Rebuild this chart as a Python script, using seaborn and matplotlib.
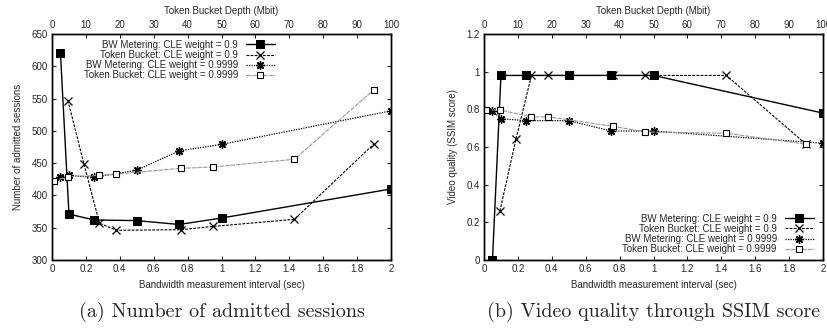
import matplotlib
matplotlib.use("Agg")
import matplotlib.pyplot as plt
import seaborn as sns

# ---- data ----
# bandwidth metering uses the bottom axis (sec), token bucket the top one (Mbit)
bw_x = [0.05, 0.1, 0.25, 0.5, 0.75, 1.0, 2.0]
tb09_x = [4.7, 9.4, 14, 19, 38, 47.5, 71.5, 95]
tb9999_x = [0.6, 4.6, 14, 19, 38, 47.5, 71.5, 95]

# (a) number of admitted sessions
sess_bw09 = [620, 371, 362, 361, 355, 365, 410]
sess_tb09 = [547, 449, 357, 346, 347, 352, 363, 480]
sess_bw9999 = [428, 431, 428, 439, 469, 479, 531]
sess_tb9999 = [422, 429, 431, 433, 442, 444, 456, 564]

# (b) video quality (SSIM)
ssim_bw09 = [0.0, 0.98, 0.98, 0.98, 0.98, 0.98, 0.78]
ssim_tb09 = [0.26, 0.64, 0.98, 0.98, 0.98, 0.98, 0.98, 0.615]
ssim_bw9999 = [0.79, 0.75, 0.74, 0.74, 0.685, 0.685, 0.62]
ssim_tb9999 = [0.797, 0.797, 0.76, 0.76, 0.71, 0.68, 0.673, 0.615]

labels = ["BW Metering: CLE weight = 0.9", "Token Bucket: CLE weight = 0.9",
          "BW Metering: CLE weight = 0.9999", "Token Bucket: CLE weight = 0.9999"]

sns.set_style("ticks")
plt.rcParams['font.family'] = ['Liberation Sans', 'DejaVu Sans']
FS = 7

fig = plt.figure(figsize=(8.27, 3.29), dpi=100)
W, H = 827, 329


def make_panel(left, ys, ylim, yticks, ylabel, caption, legend_loc, legend_anchor):
    ax = fig.add_axes([left / W, 1 - 260 / H, 339 / W, 226 / H])
    top = ax.twiny()

    bw09, tb09, bw9999, tb9999 = ys
    sns.lineplot(x=bw_x, y=bw09, ax=ax, color="black", lw=1.0, marker="s",
                 markersize=5.5, markeredgecolor="black", markerfacecolor="black")
    sns.lineplot(x=bw_x, y=bw9999, ax=ax, color="black", lw=0.9, linestyle=(0, (1, 1)),
                 marker=(8, 2, 0), markersize=6, markeredgecolor="black", markeredgewidth=1.0)
    sns.lineplot(x=tb09_x, y=tb09, ax=top, color="black", lw=0.8, linestyle=(0, (2.5, 1.2)),
                 marker="x", markersize=5.5, markeredgecolor="black", markeredgewidth=0.9)
    sns.lineplot(x=tb9999_x, y=tb9999, ax=top, color="0.6", lw=0.8, linestyle=(0, (4, 1)),
                 marker="s", markersize=5, markerfacecolor="white", markeredgecolor="black",
                 markeredgewidth=0.8)

    lines = ax.get_lines() + top.get_lines()
    # order: BW 0.9, TB 0.9, BW 0.9999, TB 0.9999
    handles = [lines[0], lines[2], lines[1], lines[3]]

    ax.set_xlim(0, 2)
    ax.set_ylim(*ylim)
    ax.set_xticks([i * 0.2 for i in range(11)])
    ax.set_xticklabels(["0", "0.2", "0.4", "0.6", "0.8", "1", "1.2", "1.4", "1.6", "1.8", "2"])
    ax.set_yticks(yticks)
    ax.set_yticklabels([("%g" % v) for v in yticks])
    top.set_xlim(0, 100)
    top.set_ylim(*ylim)
    top.set_xticks(range(0, 101, 10))

    ax.set_xlabel("Bandwidth measurement interval (sec)", fontsize=FS, labelpad=4)
    ax.set_ylabel(ylabel, fontsize=FS, labelpad=6)
    top.set_xlabel("Token Bucket Depth (Mbit)", fontsize=FS, labelpad=4)

    for a in (ax, top):
        a.tick_params(direction="in", length=3, width=0.8, labelsize=FS, pad=3)
        for s in a.spines.values():
            s.set_visible(True)
            s.set_linewidth(1.0)
            s.set_color("black")
    ax.tick_params(right=True, which="both")

    leg = top.legend(handles, labels, loc=legend_loc, bbox_to_anchor=legend_anchor,
                     frameon=False, fontsize=FS, markerfirst=False, handlelength=3.0,
                     handletextpad=0.8, labelspacing=0.02, borderaxespad=0.2)
    for t in leg.get_texts():
        t.set_ha("right")
    leg._legend_box.align = "right"

    fig.text((left + 339 / 2) / W, 1 - 312 / H, caption, ha="center", va="center",
             fontsize=14.5, fontfamily="cmr10")
    return ax


make_panel(52, (sess_bw09, sess_tb09, sess_bw9999, sess_tb9999), (300, 650),
           list(range(300, 651, 50)), "Number of admitted sessions",
           "(a) Number of admitted sessions", "upper right", (0.675, 1.0))
make_panel(484, (ssim_bw09, ssim_tb09, ssim_bw9999, ssim_tb9999), (0, 1.2),
           [0, 0.2, 0.4, 0.6, 0.8, 1.0, 1.2], "Video quality (SSIM score)",
           "(b) Video quality through SSIM score", "lower right", (0.99, 0.0))

fig.savefig("out.png", dpi=100)
